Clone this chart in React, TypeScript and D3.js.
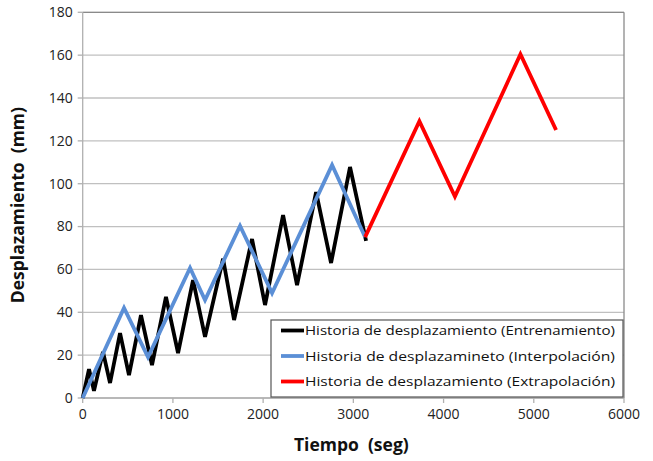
import React from "react";
import * as d3 from "d3";

const trainT = [0, 70, 125, 225, 303, 414, 513, 646, 768, 923, 1057, 1223, 1356, 1556, 1678, 1877, 2021, 2221, 2376, 2587, 2753, 2963, 3141];
const trainV = [0, 13.5, 3.3, 21.5, 7, 30.3, 10.7, 38.7, 15.4, 47.2, 21, 55, 28.5, 65, 36.4, 74.2, 43.4, 85.4, 52.7, 96.1, 63, 107.8, 73.3];
const interpT = [0, 458, 724, 1190, 1356, 1744, 2099, 2764, 3130];
const interpV = [0, 42, 19.1, 60.7, 45.7, 80.3, 49, 108.7, 75.1];
const extrapT = [3130, 3732, 4126, 4852, 5247];
const extrapV = [75.1, 129.2, 94.0, 160.4, 125.1];

const xTicks = [0, 1000, 2000, 3000, 4000, 5000, 6000];
const yTicks = [0, 20, 40, 60, 80, 100, 120, 140, 160, 180];
const legendLabels = [
  "Historia de desplazamiento (Entrenamiento)",
  "Historia de desplazamineto (Interpolación)",
  "Historia de desplazamiento (Extrapolación)",
];
const colors = ["#000000", "#5b8fd6", "#ff0000"];

export default function App() {
  const W = 653, H = 461;
  const left = 82.7, right = 624, top = 12.3, bottom = 398;
  const x = d3.scaleLinear().domain([0, 6000]).range([left, right]);
  const y = d3.scaleLinear().domain([0, 180]).range([bottom, top]);
  const line = d3.line<[number, number]>().x(d => x(d[0])).y(d => y(d[1]));
  const series = [
    trainT.map((t, i) => [t, trainV[i]] as [number, number]),
    interpT.map((t, i) => [t, interpV[i]] as [number, number]),
    extrapT.map((t, i) => [t, extrapV[i]] as [number, number]),
  ];
  const font = "Open Sans, Liberation Sans, sans-serif";
  const lg = { x: 271, y: 320, w: 352, h: 77 };
  return (
    <svg width={W} height={H} style={{ position: "absolute", left: 0, top: 0, background: "#fff" }}>
      <rect width={W} height={H} fill="#fff" />
      {yTicks.map(v => (
        <line key={"g" + v} x1={left} x2={right} y1={y(v)} y2={y(v)} stroke="#c0c0c0" strokeWidth={1.3} />
      ))}
      <line x1={left} x2={right} y1={top} y2={top} stroke="#8a8a8a" strokeWidth={1.3} />
      <line x1={right} x2={right} y1={top} y2={bottom} stroke="#8a8a8a" strokeWidth={1.3} />
      <line x1={left} x2={left} y1={top} y2={bottom} stroke="#b0b0b0" strokeWidth={1.3} />
      <line x1={left} x2={right} y1={bottom} y2={bottom} stroke="#b0b0b0" strokeWidth={1.3} />
      {yTicks.map(v => (
        <g key={"y" + v}>
          <line x1={left - 5} x2={left} y1={y(v)} y2={y(v)} stroke="#b0b0b0" strokeWidth={1.3} />
          <text x={left - 10} y={y(v)} dy="0.35em" textAnchor="end" fontFamily={font} fontSize={14} fill="#222">{v}</text>
        </g>
      ))}
      {xTicks.map(v => (
        <g key={"x" + v}>
          <line x1={x(v)} x2={x(v)} y1={bottom} y2={bottom + 5} stroke="#b0b0b0" strokeWidth={1.3} />
          <text x={x(v)} y={bottom + 21} textAnchor="middle" fontFamily={font} fontSize={14} fill="#222">{v}</text>
        </g>
      ))}
      {series.map((s, i) => (
        <path key={"s" + i} d={line(s) || ""} fill="none" stroke={colors[i]} strokeWidth={3.8} strokeLinejoin="miter" strokeMiterlimit={4} />
      ))}
      <rect x={lg.x} y={lg.y} width={lg.w} height={lg.h} fill="#fff" stroke="#555" strokeWidth={1.2} />
      {legendLabels.map((l, i) => {
        const cy = lg.y + 10.5 + i * 25.5;
        return (
          <g key={"l" + i}>
            <line x1={lg.x + 10} x2={lg.x + 33} y1={cy} y2={cy} stroke={colors[i]} strokeWidth={3.8} />
            <text x={lg.x + 34} y={cy} dy="0.35em" fontFamily={font} fontSize={13.5} fill="#111" textLength={310} lengthAdjust="spacingAndGlyphs">{l}</text>
          </g>
        );
      })}
      <text x={(left + right) / 2 - 2} y={451} textAnchor="middle" fontFamily={font} fontWeight="bold" fontSize={17.5} fill="#111" xmlSpace="preserve">Tiempo  (seg)</text>
      <text transform={`translate(24, ${(top + bottom) / 2}) rotate(-90)`} textAnchor="middle" fontFamily={font} fontWeight="bold" fontSize={17.5} fill="#111" xmlSpace="preserve">Desplazamiento  (mm)</text>
    </svg>
  );
}
